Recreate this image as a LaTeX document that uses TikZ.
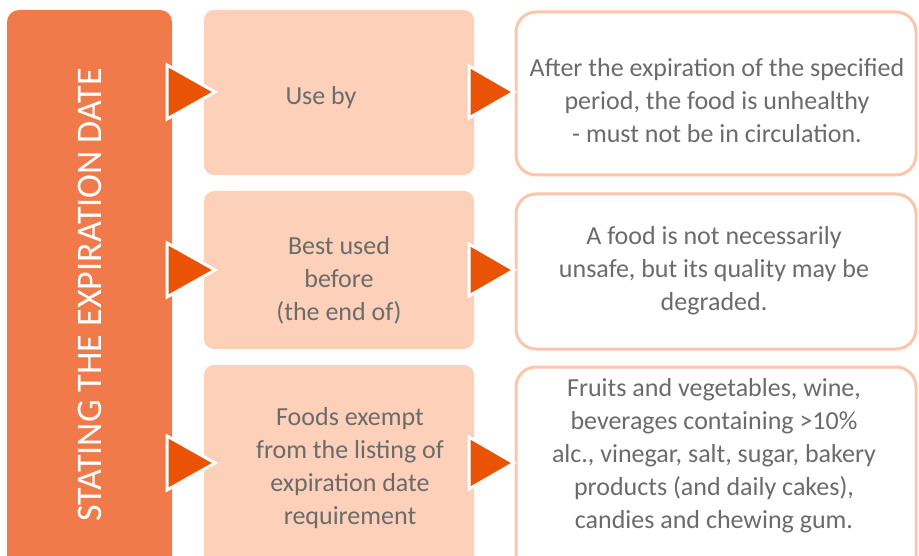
\documentclass[tikz,border=0pt]{standalone}
\usepackage{fontspec}
\setmainfont{Carlito}
\definecolor{sideorange}{HTML}{F07A4A}
\definecolor{peach}{HTML}{FDD1B9}
\definecolor{peachline}{HTML}{FBC6A9}
\definecolor{pointred}{HTML}{EA5206}
\definecolor{txtgray}{HTML}{6B6B6B}

\begin{document}
\begin{tikzpicture}[x=1pt,y=-1pt,
  every node/.style={font=\fontsize{26}{33}\selectfont, text=txtgray, align=center},
  sidebox/.style={fill=sideorange, rounded corners=12pt},
  termbox/.style={fill=peach, rounded corners=10pt},
  infobox/.style={draw=peachline, line width=3pt, fill=white, rounded corners=20pt},
  pointer/.style={fill=pointred, draw=white, line width=3pt, line join=miter}]
\useasboundingbox (0,0) rectangle (919,556);
\clip (0,0) rectangle (919,556);

% left column
\fill[sidebox] (7,10) rectangle (172,590);
\node[rotate=90, text=white, font=\fontsize{36}{40}\selectfont] (title) at (90,295) {STATING THE EXPIRATION DATE};

% middle column
\fill[termbox] (204,10) rectangle (474,175);
\fill[termbox] (204,191) rectangle (474,349);
\fill[termbox] (204,365) rectangle (474,590);
\node (useby) at (321,98) {Use by};
\node (bestused) at (339,280) {Best used\\before\\(the end of)};
\node (exempt) at (350,468) {Foods exempt\\from the listing of\\expiration date\\requirement};

% right column
\draw[infobox] (516,12) rectangle (916,175);
\draw[infobox] (516,194) rectangle (916,349);
\draw[infobox] (516,367) rectangle (916,590);
\node (unhealthy) at (717,101) {After the expiration of the specified\\period, the food is unhealthy\\- must not be in circulation.};
\node (degraded) at (714,271) {A food is not necessarily\\unsafe, but its quality may be\\degraded.};
\node (exemptlist) at (714,456) {Fruits and vegetables, wine,\\beverages containing >10\%\\alc., vinegar, salt, sugar, bakery\\products (and daily cakes),\\candies and chewing gum.};

% pointers
\foreach \y in {92,270,463} {
  \filldraw[pointer] (167,\y-27) -- (215,\y) -- (167,\y+27) -- cycle;
  \filldraw[pointer] (469,\y-26) -- (514,\y) -- (469,\y+26) -- cycle;
}

\end{tikzpicture}
\end{document}
